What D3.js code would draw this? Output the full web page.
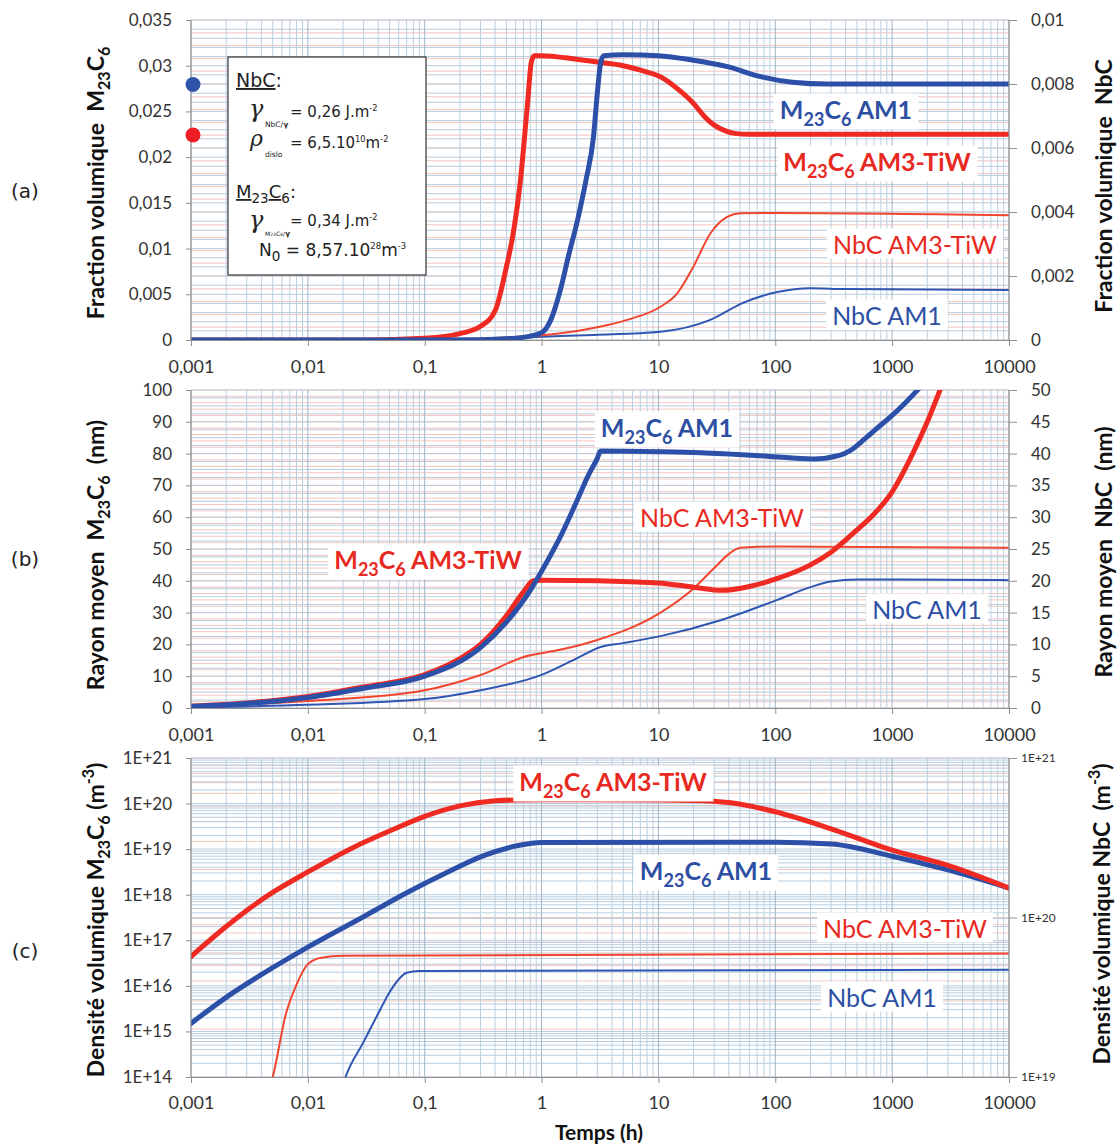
<!DOCTYPE html>
<html><head><meta charset="utf-8">
<script src="https://cdn.jsdelivr.net/npm/d3@7"></script>
<style>body{margin:0;background:#fff} svg{display:block} text{white-space:pre}</style>
</head><body><svg id="c" width="1119" height="1147"></svg>
<script>
// ---------- DATA ----------
const timeTicks=[0.001,0.01,0.1,1,10,100,1000,10000];
const timeLabels=["0,001","0,01","0,1","1","10","100","1000","10000"];

const fracLeftTicks=[0,0.005,0.01,0.015,0.02,0.025,0.03,0.035];
const fracLeftLabels=["0","0,005","0,01","0,015","0,02","0,025","0,03","0,035"];
const fracRightTicks=[0,0.002,0.004,0.006,0.008,0.01];
const fracRightLabels=["0","0,002","0,004","0,006","0,008","0,01"];

const rayLeftTicks=[0,10,20,30,40,50,60,70,80,90,100];
const rayLeftLabels=["0","10","20","30","40","50","60","70","80","90","100"];
const rayRightTicks=[0,5,10,15,20,25,30,35,40,45,50];
const rayRightLabels=["0","5","10","15","20","25","30","35","40","45","50"];

const densLeftTicks=[1e14,1e15,1e16,1e17,1e18,1e19,1e20,1e21];
const densLeftLabels=["1E+14","1E+15","1E+16","1E+17","1E+18","1E+19","1E+20","1E+21"];
const densRightTicks=[1e19,1e20,1e21];
const densRightLabels=["1E+19","1E+20","1E+21"];

// (a) volume fraction  [time h, value]
const fracM23C6_AM1=[[0.001,0],[0.1,0],[0.3,0.00003],[0.6,0.0002],[1,0.0008],[1.2,0.0022],[1.45,0.0055],[1.7,0.0092],[2.03,0.0131],[2.4,0.0175],[2.78,0.0222],[3.0,0.027],[3.2,0.0303],[3.4,0.0311],[5,0.0312],[10,0.0311],[20,0.0306],[39,0.0299],[75,0.0288],[140,0.0282],[280,0.028],[10000,0.028]];
const fracM23C6_AM3=[[0.001,0],[0.03,0],[0.1,0.0002],[0.2,0.0007],[0.3,0.0015],[0.4,0.0032],[0.5,0.008],[0.56,0.011],[0.66,0.0175],[0.76,0.026],[0.82,0.0305],[0.87,0.0311],[1,0.0311],[2,0.0307],[3,0.0304],[5,0.0300],[8,0.0293],[10.4,0.0288],[14.5,0.0275],[19.9,0.0259],[25,0.0244],[30,0.0235],[37,0.0229],[45,0.0226],[60,0.0225],[10000,0.0225]];
const fracNbC_AM3=[[0.001,0],[0.1,0.00001],[0.5,0.00008],[1,0.00015],[1.45,0.00021],[3,0.0004],[5.4,0.00063],[10.4,0.00104],[14.5,0.00146],[19.9,0.00229],[27.8,0.00333],[38.8,0.00385],[50,0.00396],[100,0.00397],[10000,0.0039]];
const fracNbC_AM1=[[0.001,0],[0.1,0.00001],[0.5,0.00005],[1,0.0001],[2.8,0.00016],[10.4,0.00026],[27.8,0.00063],[53,0.00116],[104,0.0015],[200,0.00162],[400,0.00159],[10000,0.00156]];

// (b) mean radius (nm)
const rayM23C6_AM1=[[0.001,0.5],[0.003,1.4],[0.01,3.3],[0.03,6.2],[0.1,10],[0.3,19],[0.5,27],[0.8,37],[1,43],[1.5,55],[2,65],[2.5,73],[3,78.5],[3.2,80.8],[10,80.6],[23,80.3],[85,79.2],[210,78.3],[360,79.5],[440,81],[600,85],[800,89],[1000,92],[1300,96],[1700,100.5]];
const rayM23C6_AM3=[[0.001,0.6],[0.003,1.6],[0.01,3.6],[0.03,6.6],[0.1,10.5],[0.2,15.5],[0.3,20],[0.5,29],[0.7,36.5],[0.85,40],[1,40.2],[3,40],[10,39.3],[20,38],[35,37],[60,38.2],[100,40.5],[200,45],[300,49],[500,56],[700,61],[1000,68],[1500,80],[2000,90],[2600,100.5]];
const rayNbC_AM3=[[0.001,0.3],[0.01,1.1],[0.1,2.8],[0.3,5.2],[0.8,8.3],[1,8.6],[3,10.7],[10,14.8],[20,18.8],[30,22],[40,24.2],[50,25.2],[100,25.4],[10000,25.2]];
const rayNbC_AM1=[[0.001,0.1],[0.01,0.5],[0.1,1.4],[0.3,2.8],[1,5.2],[2,7.8],[3.2,9.6],[5,10.2],[10.4,11.3],[34,13.8],[104,17],[200,19],[300,19.9],[500,20.2],[10000,20.1]];

// (c) number density (m-3)
const densM23C6_AM3=[[0.001,4.4e16],[0.002,2e17],[0.00316,5e17],[0.005,1.12e18],[0.01,3.16e18],[0.025,1.12e19],[0.05,2.5e19],[0.1,5.25e19],[0.2,8.9e19],[0.4,1.15e20],[0.63,1.2e20],[1,1.21e20],[10,1.2e20],[20,1.17e20],[40,1.05e20],[100,6.6e19],[300,2.8e19],[1000,9.5e18],[3000,4.4e18],[10000,1.4e18]];
const densM23C6_AM1=[[0.001,1.5e15],[0.002,5.6e15],[0.005,2.5e16],[0.01,7.1e16],[0.0316,3.55e17],[0.0708,1.12e18],[0.158,3.16e18],[0.316,7.1e18],[0.63,1.2e19],[1,1.4e19],[100,1.42e19],[300,1.3e19],[1000,7e18],[3000,3.5e18],[10000,1.4e18]];
const densNbC_AM3=[[0.0048,9e18],[0.005,1e19],[0.0065,2.5e19],[0.008,3.8e19],[0.01,5.1e19],[0.013,5.6e19],[0.02,5.75e19],[10000,5.95e19]];
const densNbC_AM1=[[0.02,9e18],[0.021,1e19],[0.03,1.66e19],[0.04,2.5e19],[0.05,3.4e19],[0.06,4.1e19],[0.07,4.5e19],[0.09,4.62e19],[10000,4.7e19]];

// ---------- STYLE ----------
const BLUE="#2c50a8", RED="#ee2a22", BLUE_T="#2f56b2", RED_T="#f2452f";
const TXT_BLUE="#2d4fa3", TXT_RED="#e8291f";
const FONT="Lato, 'Open Sans', sans-serif";

const svg=d3.select("#c");
const X=d3.scaleLog().domain([0.001,10000]).range([191,1009]);
const xL=191, xR=1009;

function rich(g,x,y,parts,size,attrs){
  const t=g.append("text").attr("x",x).attr("y",y).attr("font-size",size);
  for(const k in attrs) t.attr(k,attrs[k]);
  let off=0;
  parts.forEach(p=>{
    const s=p[0],kind=p[1];
    const target= kind==="sub"? size*0.28 : kind==="sup"? -size*0.42 : 0;
    const fs= kind? size*(p[2]||0.62) : size;
    const ts=t.append("tspan").attr("dy",target-off).attr("font-size",fs).text(s);
    if(p[3]) ts.attr("text-decoration","underline");
    off=target;
  });
  return t;
}
function curveLabel(g,cx,cy,parts,size,color,bold){
  const t=rich(g,cx,cy+size*0.34,parts,size,{"text-anchor":"middle","fill":color,"font-family":FONT,"font-weight":bold?"700":"400"});
  const b=t.node().getBBox();
  g.insert("rect",()=>t.node()).attr("x",b.x-6).attr("y",b.y).attr("width",b.width+12).attr("height",b.height).attr("fill","#fff");
}

function logMinors(e0,e1){const a=[];for(let e=e0;e<e1;e++)for(let k=1;k<10;k++)a.push(k*Math.pow(10,e));a.push(Math.pow(10,e1));return a;}

function panel(cfg){
  const g=svg.append("g");
  const {top,bottom,yL,yR}=cfg;
  const grid=g.append("g");
  cfg.rightMinor.forEach(v=>grid.append("line").attr("x1",xL).attr("x2",xR).attr("y1",yR(v)).attr("y2",yR(v)).attr("stroke","#f3c7c0").attr("stroke-width",1));
  cfg.leftMinor.forEach(v=>grid.append("line").attr("x1",xL).attr("x2",xR).attr("y1",yL(v)).attr("y2",yL(v)).attr("stroke","#b7cde0").attr("stroke-width",1));
  logMinors(-3,4).forEach(v=>{
    const major=Math.abs(Math.log10(v)-Math.round(Math.log10(v)))<1e-9;
    grid.append("line").attr("x1",X(v)).attr("x2",X(v)).attr("y1",top).attr("y2",bottom)
      .attr("stroke",major?"#9fb4c4":"#bccfdd").attr("stroke-width",1);
  });
  const id="clip"+cfg.name;
  g.append("clipPath").attr("id",id).append("rect").attr("x",xL).attr("y",top).attr("width",xR-xL).attr("height",bottom-top);
  const curves=g.append("g").attr("clip-path",`url(#${id})`);
  cfg.series.forEach(s=>{
    const y= s.axis==="L"? yL : yR;
    const line=d3.line().x(d=>X(d[0])).y(d=>y(d[1])).curve(d3.curveMonotoneX);
    curves.append("path").attr("d",line(s.data)).attr("fill","none").attr("stroke",s.color)
      .attr("stroke-width",s.w).attr("stroke-linejoin","round").attr("stroke-linecap","round");
  });
  const sty=(sel,fs)=>{sel.select(".domain").attr("stroke","#8f8f8f");sel.selectAll(".tick line").attr("stroke","#8f8f8f");
    sel.selectAll(".tick text").attr("font-family",FONT).attr("font-size",fs).attr("fill","#333");};
  const aL=g.append("g").attr("transform",`translate(${xL},0)`)
    .call(d3.axisLeft(yL).tickValues(cfg.lt).tickFormat((d,i)=>cfg.ll[i]).tickSize(5).tickSizeOuter(0).tickPadding(14));
  sty(aL,17);
  const aR=g.append("g").attr("transform",`translate(${xR},0)`)
    .call(d3.axisRight(yR).tickValues(cfg.rt).tickFormat((d,i)=>cfg.rl[i]).tickSize(8).tickSizeOuter(0).tickPadding(cfg.rpad||14));
  sty(aR,cfg.rfs||17);
  const aB=g.append("g").attr("transform",`translate(0,${bottom})`)
    .call(d3.axisBottom(X).tickValues(timeTicks).tickFormat((d,i)=>timeLabels[i]).tickSize(6).tickSizeOuter(0).tickPadding(cfg.bpad||14));
  sty(aB,18);
  aL.select(".domain").attr("d",`M0,${top}V${bottom}`);
  aR.select(".domain").attr("d",`M0,${top}V${bottom}`);
  rich(g,0,0,cfg.titleL,23,{"text-anchor":"middle","font-family":FONT,"font-weight":"700","fill":"#111",
     transform:`translate(${cfg.tlx},${cfg.tly}) rotate(-90)`});
  rich(g,0,0,cfg.titleR,23,{"text-anchor":"middle","font-family":FONT,"font-weight":"700","fill":"#111",
     transform:`translate(${cfg.trx},${cfg.try}) rotate(-90)`});
  g.append("text").attr("x",25).attr("y",cfg.letterY).attr("text-anchor","middle").attr("dominant-baseline","middle")
    .attr("font-family","'DejaVu Sans', sans-serif").attr("font-size",20).attr("fill","#222").text(cfg.letter);
  const lg=g.append("g");
  cfg.labels.forEach(l=>curveLabel(lg,l.x,l.y,l.parts,l.size,l.color,l.bold));
  return g;
}

const M23AM1=[["M"],["23","sub",0.72],["C"],["6","sub",0.72],[" AM1"]];
const M23AM3=[["M"],["23","sub",0.72],["C"],["6","sub",0.72],[" AM3-TiW"]];

// panel a
panel({name:"a",top:20,bottom:340,
  yL:d3.scaleLinear().domain([0,0.035]).range([340,20]),
  yR:d3.scaleLinear().domain([0,0.01]).range([340,20]),
  leftMinor:d3.range(0,36).map(i=>i*0.001), rightMinor:d3.range(0,26).map(i=>i*0.0004),
  lt:fracLeftTicks,ll:fracLeftLabels,rt:fracRightTicks,rl:fracRightLabels,
  series:[{data:fracNbC_AM1,axis:"R",color:BLUE_T,w:2},{data:fracNbC_AM3,axis:"R",color:RED_T,w:2},
          {data:fracM23C6_AM3,axis:"L",color:RED,w:5},{data:fracM23C6_AM1,axis:"L",color:BLUE,w:5}],
  titleL:[["Fraction volumique  M"],["23","sub",0.7],["C"],["6","sub",0.7]], tlx:104, tly:183,
  titleR:[["Fraction volumique  NbC"]], trx:1112, try:186,
  letter:"(a)", letterY:192,
  labels:[{x:846,y:110,parts:M23AM1,size:25,color:TXT_BLUE,bold:true},
          {x:877,y:162,parts:M23AM3,size:25,color:TXT_RED,bold:true},
          {x:915,y:245,parts:[["NbC AM3-TiW"]],size:25,color:TXT_RED,bold:false},
          {x:887,y:316,parts:[["NbC AM1"]],size:25,color:TXT_BLUE,bold:false}]
});

// panel b
panel({name:"b",top:390,bottom:708,
  yL:d3.scaleLinear().domain([0,100]).range([708,390]),
  yR:d3.scaleLinear().domain([0,50]).range([708,390]),
  leftMinor:d3.range(0,41).map(i=>i*2.5), rightMinor:d3.range(0,51),
  lt:rayLeftTicks,ll:rayLeftLabels,rt:rayRightTicks,rl:rayRightLabels,
  series:[{data:rayNbC_AM1,axis:"R",color:BLUE_T,w:2},{data:rayNbC_AM3,axis:"R",color:RED_T,w:2},
          {data:rayM23C6_AM3,axis:"L",color:RED,w:5},{data:rayM23C6_AM1,axis:"L",color:BLUE,w:5}],
  titleL:[["Rayon moyen  M"],["23","sub",0.7],["C"],["6","sub",0.7],["  (nm)"]], tlx:104, tly:555,
  titleR:[["Rayon moyen  NbC  (nm)"]], trx:1112, try:552,
  letter:"(b)", letterY:560,
  labels:[{x:667,y:428,parts:M23AM1,size:25,color:TXT_BLUE,bold:true},
          {x:722,y:518,parts:[["NbC AM3-TiW"]],size:25,color:TXT_RED,bold:false},
          {x:428,y:560,parts:M23AM3,size:25,color:TXT_RED,bold:true},
          {x:927,y:610,parts:[["NbC AM1"]],size:25,color:TXT_BLUE,bold:false}]
});

// panel c
panel({name:"c",top:758,bottom:1077,
  yL:d3.scaleLog().domain([1e14,1e21]).range([1077,758]),
  yR:d3.scaleLog().domain([1e19,1e21]).range([1077,758]),
  leftMinor:logMinors(14,21), rightMinor:logMinors(19,21),
  lt:densLeftTicks,ll:densLeftLabels,rt:densRightTicks,rl:densRightLabels,rfs:12,rpad:4,bpad:13,
  series:[{data:densNbC_AM1,axis:"R",color:BLUE_T,w:2},{data:densNbC_AM3,axis:"R",color:RED_T,w:2},
          {data:densM23C6_AM1,axis:"L",color:BLUE,w:5},{data:densM23C6_AM3,axis:"L",color:RED,w:5}],
  titleL:[["Densité volumique M"],["23","sub",0.7],["C"],["6","sub",0.7],[" (m"],["-3","sup",0.7],[")"]], tlx:104, tly:920,
  titleR:[["Densité volumique NbC  (m"],["-3","sup",0.7],[")"]], trx:1110, try:914,
  letter:"(c)", letterY:952,
  labels:[{x:613,y:782,parts:M23AM3,size:25,color:TXT_RED,bold:true},
          {x:706,y:871,parts:M23AM1,size:25,color:TXT_BLUE,bold:true},
          {x:905,y:929,parts:[["NbC AM3-TiW"]],size:25,color:TXT_RED,bold:false},
          {x:882,y:998,parts:[["NbC AM1"]],size:25,color:TXT_BLUE,bold:false}]
});

// x title
svg.append("text").attr("x",599).attr("y",1140).attr("text-anchor","middle").attr("font-family",FONT)
  .attr("font-weight","700").attr("font-size",21).attr("fill","#111").text("Temps (h)");

// legend box & dots
svg.append("circle").attr("cx",193).attr("cy",84.5).attr("r",7.5).attr("fill","#2d54a8");
svg.append("circle").attr("cx",193).attr("cy",135).attr("r",7.5).attr("fill","#ee1c24");
const lg=svg.append("g").attr("font-family","'DejaVu Sans', sans-serif").attr("fill","#222");
lg.append("rect").attr("x",228).attr("y",57).attr("width",198).attr("height",218).attr("fill","#fff").attr("stroke","#333").attr("stroke-width",1.2);
const GREEK="'DejaVu Serif','Liberation Serif',serif";
lg.append("text").attr("x",236).attr("y",87).attr("font-size",19).html('<tspan text-decoration="underline">NbC</tspan>:');
lg.append("text").attr("x",249).attr("y",117).attr("font-size",24).attr("font-style","italic").attr("font-family",GREEK).text("γ");
lg.append("text").attr("x",265).attr("y",127).attr("font-size",7.5).html('NbC/<tspan font-weight="bold">γ</tspan>');
rich(lg,290,117,[["= 0,26 J.m"],["-2","sup",0.55]],15,{});
lg.append("text").attr("x",250).attr("y",146).attr("font-size",22).attr("font-style","italic").attr("font-family",GREEK).text("ρ");
lg.append("text").attr("x",265).attr("y",157).attr("font-size",7.5).text("dislo");
rich(lg,290,148,[["= 6,5.10"],["10","sup",0.55],["m"],["-2","sup",0.55]],15,{});
rich(lg,236,198,[["M",null,1,true],["23","sub",0.75],["C",null,1,true],["6","sub",0.75],[":"]],18,{});
lg.append("text").attr("x",249).attr("y",228).attr("font-size",24).attr("font-style","italic").attr("font-family",GREEK).text("γ");
lg.append("text").attr("x",265).attr("y",236).attr("font-size",6).html('M<tspan font-size="4.5">23</tspan>C<tspan font-size="4.5">6</tspan>/<tspan font-weight="bold" font-size="7.5">γ</tspan>');
rich(lg,290,226,[["= 0,34 J.m"],["-2","sup",0.55]],15,{});
rich(lg,259,256,[["N"],["0","sub",0.8],[" = 8,57.10"],["28","sup",0.5],["m"],["-3","sup",0.5]],17,{});
</script></body></html>
